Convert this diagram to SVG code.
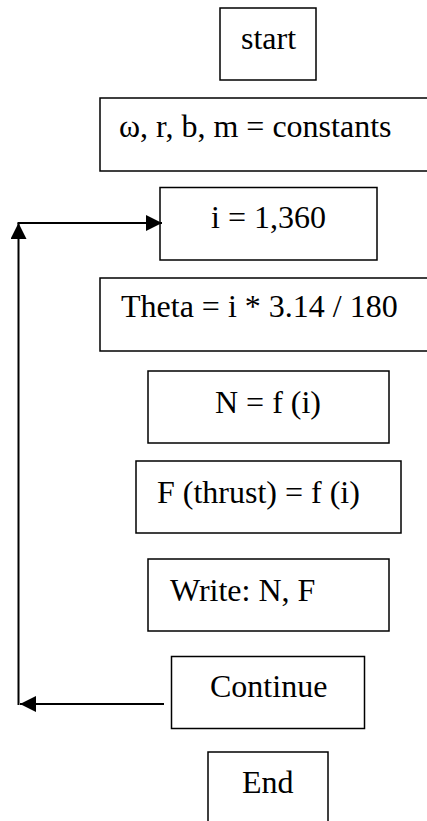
<svg xmlns="http://www.w3.org/2000/svg" width="427" height="821" viewBox="0 0 427 821">
<defs>
<style>
.box{fill:#fff;stroke:#000;stroke-width:1.5}
.lbl{font-family:"Liberation Serif","Times New Roman",serif;font-size:32px;fill:#000}
.con{fill:none;stroke:#000;stroke-width:2}
</style>
<marker id="ah" markerUnits="userSpaceOnUse" markerWidth="16" markerHeight="16" viewBox="0 0 15 15" refX="15" refY="7.5" orient="auto">
<path d="M0,0 L15,7.5 L0,15 Z" fill="#000"/>
</marker>
</defs>
<rect width="427" height="821" fill="#fff"/>
<g id="start"><rect class="box" x="220" y="8" width="96" height="72"/><text class="lbl" x="241" y="49">start</text></g>
<g id="constants"><rect class="box" x="100" y="98" width="340" height="73"/><text class="lbl" x="119" y="137">ω, r, b, m = constants</text></g>
<g id="loop"><rect class="box" x="160" y="187.5" width="217" height="72.5"/><text class="lbl" x="211" y="228">i = 1,360</text></g>
<g id="theta"><rect class="box" x="100" y="278" width="340" height="73"/><text class="lbl" x="121" y="317">Theta = i * 3.14 / 180</text></g>
<g id="normal"><rect class="box" x="148" y="371" width="241" height="72"/><text class="lbl" x="215" y="412.5">N = f (i)</text></g>
<g id="thrust"><rect class="box" x="136" y="461" width="265" height="72"/><text class="lbl" x="157" y="502.5">F (thrust) = f (i)</text></g>
<g id="write"><rect class="box" x="148" y="559" width="241" height="72"/><text class="lbl" x="170" y="600.5">Write: N, F</text></g>
<g id="continue"><rect class="box" x="171.5" y="656.5" width="193" height="72"/><text class="lbl" x="210" y="697">Continue</text></g>
<g id="end"><rect class="box" x="208" y="752" width="120" height="80"/><text class="lbl" x="242" y="793">End</text></g>
<g id="connectors">
<path class="con" d="M164,704 L20,704" marker-end="url(#ah)"/>
<path class="con" d="M18.5,705 L18.5,223" marker-end="url(#ah)"/>
<path class="con" d="M17.5,223 L162,223" marker-end="url(#ah)"/>
</g>
</svg>
